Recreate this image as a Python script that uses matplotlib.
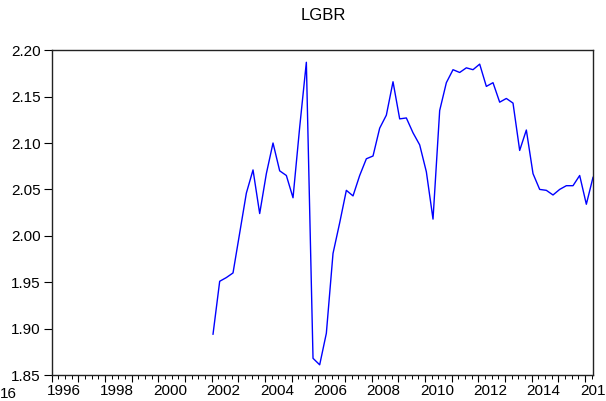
"""
plot.py
LGBR quarterly series, EViews-style line chart.
"""

import matplotlib
matplotlib.use("Agg")
import matplotlib.pyplot as plt
import matplotlib.transforms as mtransforms
import numpy as np

plt.rcParams["font.family"] = ["Liberation Sans", "DejaVu Sans"]

# quarterly observations, 2002Q1 .. 2016Q2
START_YEAR = 2002
LGBR = [
    1.894, 1.951, 1.955, 1.960, 2.003, 2.046, 2.071, 2.024,
    2.067, 2.100, 2.070, 2.065, 2.041, 2.117, 2.187, 1.868,
    1.861, 1.895, 1.981, 2.014, 2.049, 2.043, 2.065, 2.083,
    2.086, 2.116, 2.130, 2.166, 2.126, 2.127, 2.111, 2.098,
    2.069, 2.018, 2.135, 2.165, 2.179, 2.176, 2.181, 2.179,
    2.185, 2.161, 2.165, 2.144, 2.148, 2.143, 2.092, 2.114,
    2.067, 2.050, 2.049, 2.044, 2.050, 2.054, 2.054, 2.065,
    2.034, 2.063,
]
YEAR_LABELS = list(range(1996, 2018, 2))
Y_TICKS = [1.85, 1.90, 1.95, 2.00, 2.05, 2.10, 2.15, 2.20]
TITLE = "LGBR"


def main() -> None:
    x = START_YEAR + 0.05 + 0.25 * np.arange(len(LGBR))

    fig = plt.figure(figsize=(6.06, 4.01), dpi=100)
    ax = fig.add_axes([0.0853, 0.0648, 0.8937, 0.81])
    ax.plot(x, LGBR, color="#0000ff", linewidth=1.0)

    ax.set_xlim(1996, 2016.31)
    ax.set_ylim(1.85, 2.20)

    # y axis
    ax.set_yticks(Y_TICKS)
    ax.set_yticklabels([f"{v:.2f}" for v in Y_TICKS], fontsize=11)
    ax.tick_params(axis="y", direction="out", length=6, width=0.8, pad=2)

    # x axis: year ticks + quarter minor ticks, labels centred on the year
    ax.set_xticks(np.arange(1996, 2017))
    ax.set_xticks(np.arange(1996, 2016.31, 0.25), minor=True)
    ax.set_xticklabels([])
    ax.tick_params(axis="x", which="major", direction="out", length=5, width=0.8)
    ax.tick_params(axis="x", which="minor", direction="out", length=3, width=0.7)

    trans = mtransforms.blended_transform_factory(ax.transData, fig.transFigure)
    for yr in YEAR_LABELS:
        ax.text(yr + 0.45, 1 - 384 / 401, str(yr), transform=trans,
                ha="center", va="top", fontsize=11, clip_on=False)
    fig.text(0.0, 1 - 387 / 401, "16", ha="left", va="top", fontsize=11)

    for s in ax.spines.values():
        s.set_linewidth(1.0)
        s.set_color("#222222")

    fig.text(323 / 606, 1 - 8 / 401, TITLE, ha="center", va="top", fontsize=12)

    fig.savefig("out.png", dpi=100)
    plt.close(fig)


if __name__ == "__main__":
    main()
